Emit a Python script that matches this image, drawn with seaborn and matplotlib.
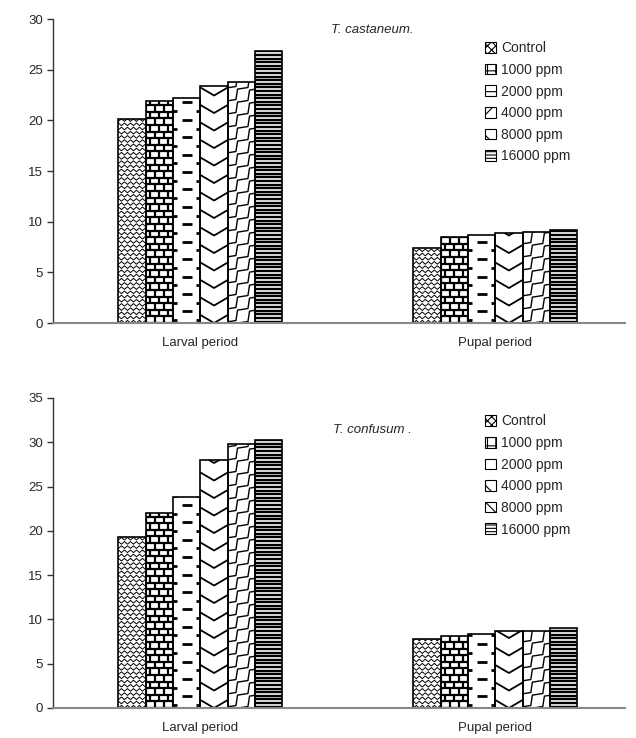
import matplotlib
matplotlib.use("Agg")
import matplotlib.pyplot as plt
from matplotlib.patches import Patch
from matplotlib.collections import LineCollection
from matplotlib.transforms import IdentityTransform
import pandas as pd
import seaborn as sns

# Development periods (days) of two flour beetles at increasing concentrations
periods = ["Larval period", "Pupal period"]
concentrations = ["Control", "1000 ppm", "2000 ppm", "4000 ppm", "8000 ppm", "16000 ppm"]

castaneum_larval = [20.1, 21.9, 22.2, 23.4, 23.8, 26.8]
castaneum_pupal = [7.4, 8.5, 8.7, 8.9, 9.0, 9.2]

confusum_larval = [19.3, 22.0, 23.8, 28.0, 29.8, 30.3]
confusum_pupal = [7.8, 8.1, 8.35, 8.7, 8.7, 9.0]

# simple hatches used for the small legend keys
legend_hatches = ["xxxx", "++", "-", "x", "\\\\", "-----"]


def long_table(larval, pupal):
    rows = []
    for conc, v in zip(concentrations, larval):
        rows.append({"period": periods[0], "conc": conc, "days": v})
    for conc, v in zip(concentrations, pupal):
        rows.append({"period": periods[1], "conc": conc, "days": v})
    return pd.DataFrame(rows)


# ---- fill patterns, generated in display pixels inside a bar's bounding box ----
def diagonal_zigzags(x0, x1, y0, y1, step, amp, gap):
    """Zigzag lines running up and to the right at 45 degrees."""
    segs = []
    c = (y0 - x1) - gap
    while c < (y1 - x0) + gap:
        pts = []
        t = -2 * step
        i = 0
        while t < (x1 - x0) + 2 * step:
            off = amp if i % 2 else -amp
            pts.append((x0 + t + off, x0 + t + c - off))
            t += step
            i += 1
        segs.append(pts)
        c += gap
    return segs


def pat_herringbone(x0, x1, y0, y1):
    # fine horizontal zigzags, offset on alternate rows
    segs = []
    step, amp, row = 3.0, 2.6, 4.2
    y = y0 - row
    k = 0
    while y < y1 + row:
        pts = []
        x = x0 - step - (step if k % 2 else 0)
        i = 0
        while x < x1 + step:
            pts.append((x, y + (amp if i % 2 else 0)))
            x += step
            i += 1
        segs.append(pts)
        y += row
        k += 1
    return segs, 0.7


def pat_brick(x0, x1, y0, y1):
    segs = []
    row, brick = 6.6, 9.0
    y = y0
    k = 0
    while y < y1 + row:
        segs.append([(x0 - 2, y), (x1 + 2, y)])
        off = 4.5 if k % 2 else 0.0
        x = x0 + off
        while x < x1 + brick:
            segs.append([(x, y), (x, y + row)])
            x += brick
        y += row
        k += 1
    return segs, 1.6


def pat_dashes(x0, x1, y0, y1):
    segs = []
    row = 8.7
    xm = 0.5 * (x0 + x1)
    y = y0 + 3
    k = 0
    while y < y1 + row:
        if k % 2:
            segs.append([(xm - 5, y), (xm + 5, y)])
        else:
            segs.append([(x0 - 1, y), (x0 + 4, y)])
            segs.append([(x1 - 4, y), (x1 + 1, y)])
        y += row
        k += 1
    return segs, 2.0


def pat_chevron(x0, x1, y0, y1):
    segs = []
    row, depth = 17.5, 8.0
    xm = 0.5 * (x0 + x1)
    y = y0
    while y < y1 + row:
        segs.append([(x0, y + depth), (xm, y), (x1, y + depth)])
        y += row
    return segs, 1.3


def pat_zigzag(x0, x1, y0, y1):
    return diagonal_zigzags(x0, x1, y0, y1, step=6.0, amp=2.2, gap=13.0), 1.0


def pat_lines(x0, x1, y0, y1):
    segs = []
    row = 3.6
    y = y0 + 1.5
    while y < y1 + row:
        segs.append([(x0 - 2, y), (x1 + 2, y)])
        y += row
    return segs, 1.7


patterns = [pat_herringbone, pat_brick, pat_dashes, pat_chevron, pat_zigzag, pat_lines]


sns.set_theme(style="white")
plt.rcParams["font.family"] = ["Liberation Sans", "DejaVu Sans"]
plt.rcParams["hatch.linewidth"] = 0.8
plt.rcParams["hatch.color"] = "black"

fig = plt.figure(figsize=(6.36, 7.38), dpi=100)
W, H = 636, 738


def axes_px(left, top, right, bottom):
    return fig.add_axes([left / W, 1 - bottom / H, (right - left) / W, (bottom - top) / H])


def draw_panel(ax, larval, pupal, ymax, title, title_y, legend_y):
    df = long_table(larval, pupal)
    sns.barplot(data=df, x="period", y="days", hue="conc", hue_order=concentrations,
                order=periods, palette=["white"] * 6, edgecolor="black", linewidth=1.2,
                width=0.556, errorbar=None, legend=False, ax=ax)
    ax.set_ylim(0, ymax)
    ax.set_yticks(range(0, ymax + 1, 5))
    ax.set_xlim(-0.5, 1.44)
    ax.set_xlabel("")
    ax.set_ylabel("")

    # fill each bar with its pattern, clipped to the bar outline
    for cont, pat in zip(ax.containers, patterns):
        for bar in cont:
            bar.set_facecolor("none")
            bar.set_zorder(3)
            (px0, py0), (px1, py1) = ax.transData.transform(
                [(bar.get_x(), bar.get_y()),
                 (bar.get_x() + bar.get_width(), bar.get_y() + bar.get_height())])
            segs, lw = pat(px0, px1, py0, py1)
            lc = LineCollection(segs, colors="black", linewidths=lw,
                                transform=IdentityTransform(), zorder=2)
            ax.add_collection(lc, autolim=False)
            lc.set_clip_path(bar)

    for s in ("top", "right"):
        ax.spines[s].set_visible(False)
    ax.spines["left"].set_color("#333333")
    ax.spines["left"].set_linewidth(1.0)
    ax.spines["bottom"].set_color("#888888")
    ax.spines["bottom"].set_linewidth(1.5)
    ax.spines["bottom"].set_zorder(4)
    ax.tick_params(axis="y", left=True, length=4, width=1, color="#333333",
                   labelsize=9.5, pad=3)
    ax.tick_params(axis="x", bottom=False, labelsize=9.5, pad=4)
    ax.text(0.558, title_y, title, transform=ax.transAxes, ha="center", va="center",
            style="italic", fontsize=9.5)
    handles = [Patch(facecolor="white", edgecolor="black", hatch=h, linewidth=0.8, label=c)
               for c, h in zip(concentrations, legend_hatches)]
    ax.legend(handles=handles, loc="upper left", bbox_to_anchor=(0.745, legend_y),
              frameon=False, fontsize=10, handlelength=0.8, handleheight=0.8,
              handletextpad=0.4, labelspacing=0.55, borderaxespad=0)


ax1 = axes_px(53, 19, 625, 323)
draw_panel(ax1, castaneum_larval, castaneum_pupal, 30, "T. castaneum.", 0.964, 0.945)

ax2 = axes_px(53, 398, 625, 708)
draw_panel(ax2, confusum_larval, confusum_pupal, 35, "T. confusum .", 0.897, 0.965)

fig.savefig("out.png", dpi=100, facecolor="white")
